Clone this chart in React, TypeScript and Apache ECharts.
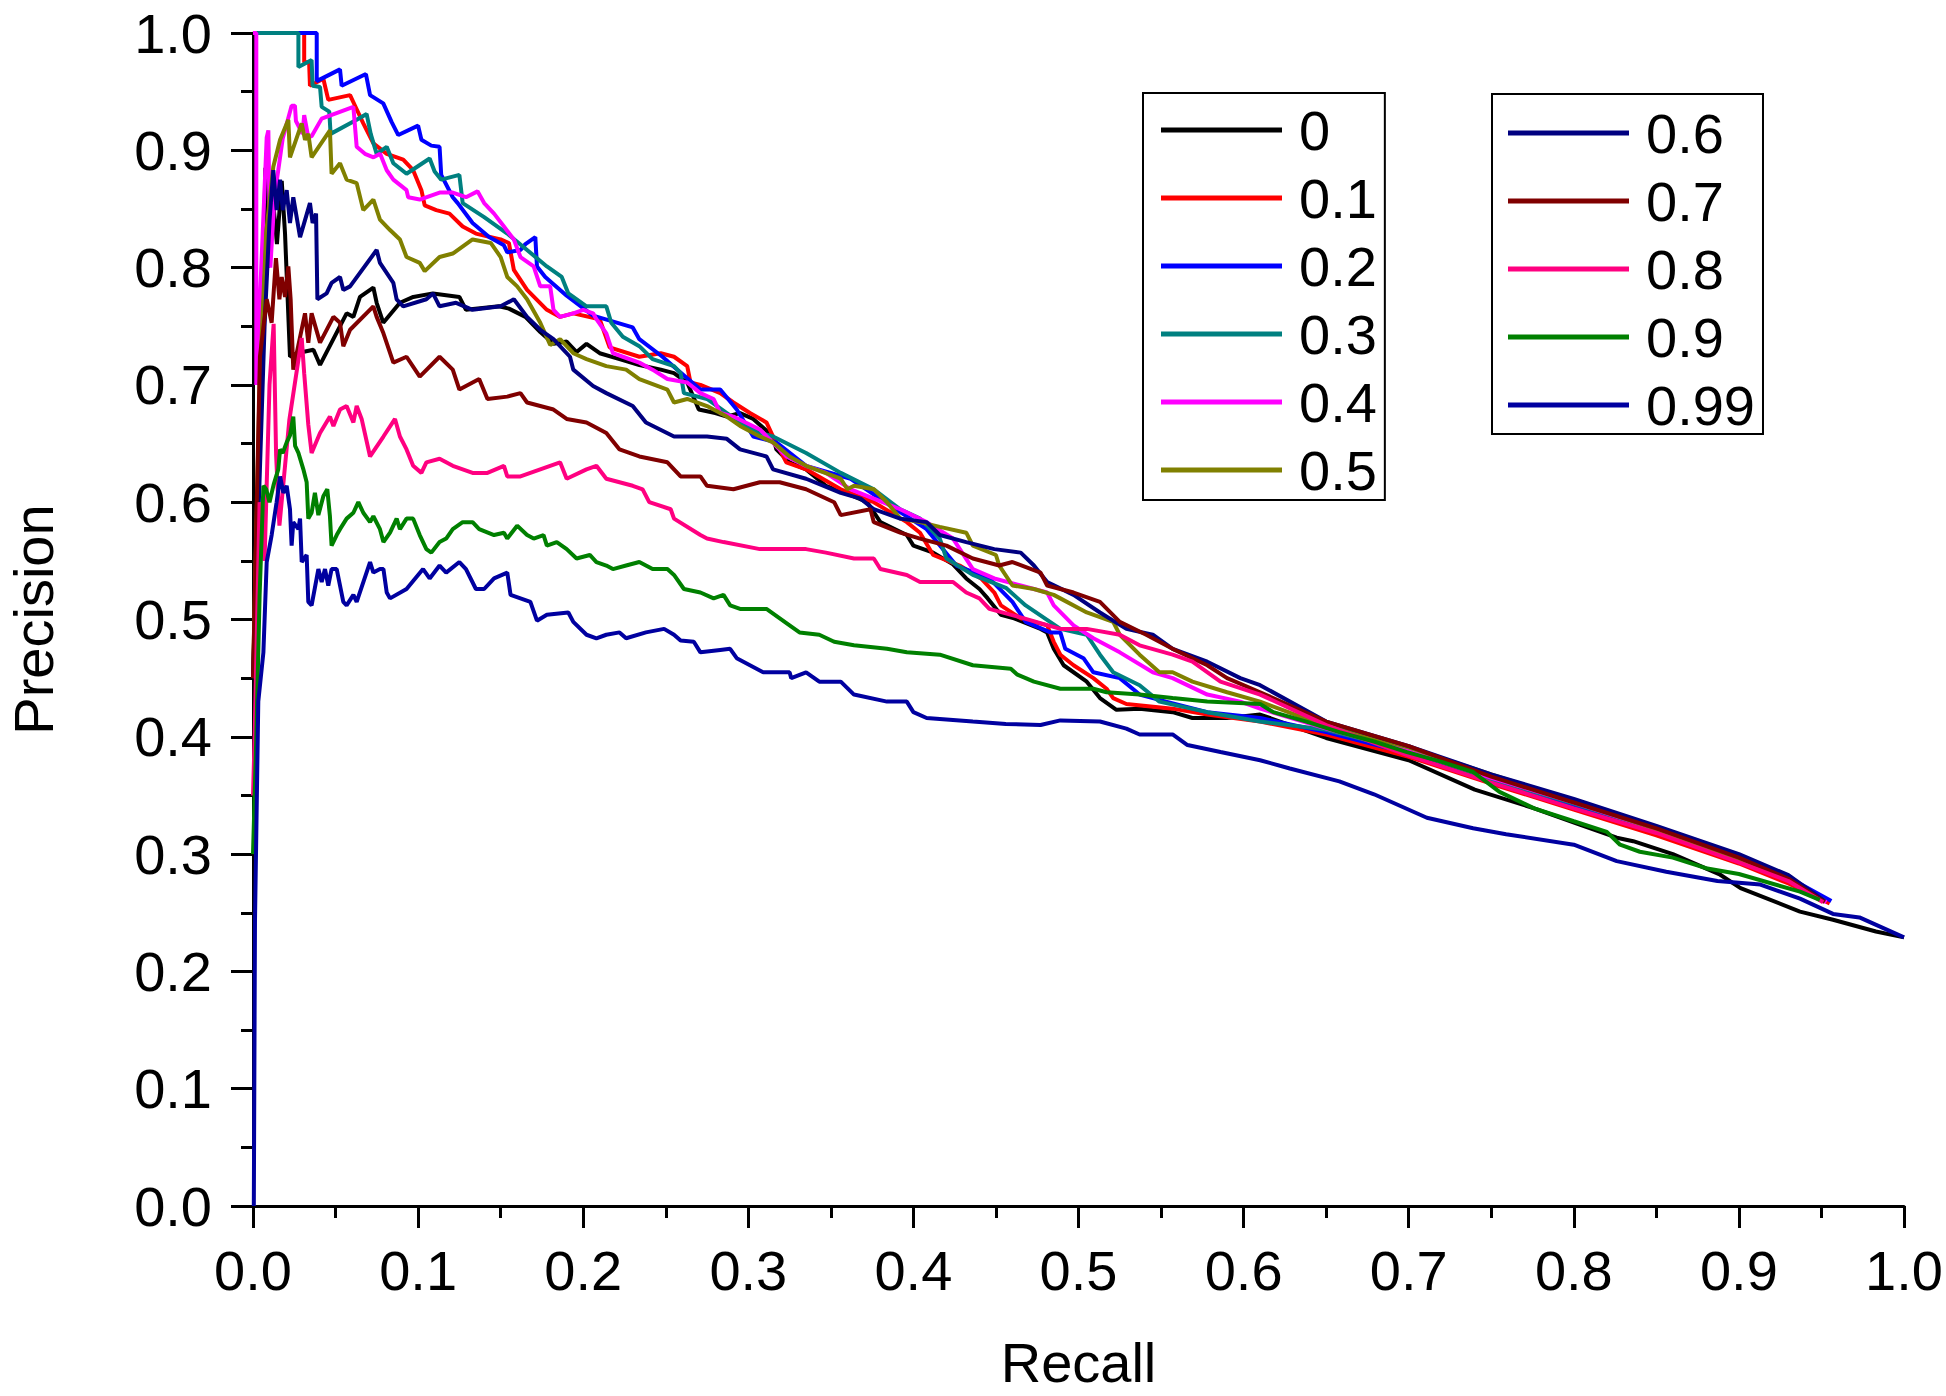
import React, { useEffect, useRef } from 'react';
import * as echarts from 'echarts';

const FONT = '"Liberation Sans", Arial, Helvetica, sans-serif';

const seriesNames = ['0', '0.1', '0.2', '0.3', '0.4', '0.5', '0.6', '0.7', '0.8', '0.9', '0.99'];
const seriesColors = ['#000000', '#FF0000', '#0000FF', '#008080', '#FF00FF', '#808000', '#000080', '#800000', '#FF0080', '#008000', '#0000A0'];
const axisTicks = [0, 0.1, 0.2, 0.3, 0.4, 0.5, 0.6, 0.7, 0.8, 0.9, 1.0];

// [recall, precision]
const pr0 = [[0,0.45],[0.005,0.7],[0.0075,0.885],[0.009,0.8],[0.0123,0.855],[0.0145,0.82],[0.0174,0.874],[0.0194,0.829],[0.0224,0.724],[0.0265,0.727],[0.0366,0.73],[0.0406,0.717],[0.0567,0.761],[0.0608,0.758],[0.0648,0.775],[0.0729,0.783],[0.0749,0.77],[0.0789,0.753],[0.089,0.77],[0.0971,0.775],[0.109,0.778],[0.125,0.775],[0.129,0.764],[0.149,0.767],[0.155,0.765],[0.165,0.758],[0.174,0.745],[0.182,0.735],[0.19,0.737],[0.196,0.728],[0.202,0.735],[0.21,0.727],[0.222,0.722],[0.234,0.717],[0.247,0.713],[0.255,0.71],[0.263,0.702],[0.27,0.679],[0.28,0.676],[0.287,0.673],[0.295,0.676],[0.303,0.671],[0.315,0.656],[0.317,0.645],[0.325,0.634],[0.335,0.628],[0.347,0.614],[0.364,0.605],[0.372,0.6],[0.38,0.583],[0.396,0.572],[0.4,0.563],[0.412,0.557],[0.424,0.547],[0.432,0.535],[0.44,0.526],[0.445,0.518],[0.453,0.504],[0.461,0.501],[0.477,0.492],[0.481,0.489],[0.485,0.475],[0.491,0.461],[0.505,0.447],[0.513,0.433],[0.523,0.423],[0.537,0.424],[0.557,0.421],[0.569,0.416],[0.59,0.416],[0.61,0.419],[0.65,0.399],[0.7,0.38],[0.74,0.355],[0.776,0.339],[0.804,0.325],[0.826,0.314],[0.836,0.311],[0.86,0.3],[0.888,0.283],[0.901,0.271],[0.937,0.251],[0.957,0.244],[0.983,0.234],[1.0,0.229]];
const pr01 = [[0,1],[0.031,1],[0.031,0.975],[0.034,0.975],[0.0345,0.955],[0.0426,0.961],[0.0456,0.943],[0.0588,0.947],[0.0618,0.938],[0.0668,0.923],[0.0729,0.906],[0.081,0.897],[0.091,0.892],[0.097,0.883],[0.102,0.866],[0.104,0.853],[0.111,0.849],[0.119,0.846],[0.127,0.835],[0.135,0.829],[0.15,0.824],[0.155,0.821],[0.158,0.798],[0.166,0.781],[0.178,0.764],[0.186,0.758],[0.194,0.761],[0.21,0.756],[0.216,0.732],[0.234,0.724],[0.247,0.727],[0.255,0.724],[0.263,0.716],[0.265,0.702],[0.271,0.7],[0.283,0.693],[0.291,0.685],[0.301,0.676],[0.311,0.668],[0.315,0.656],[0.323,0.634],[0.335,0.628],[0.356,0.611],[0.376,0.6],[0.396,0.583],[0.404,0.574],[0.412,0.555],[0.428,0.546],[0.441,0.535],[0.449,0.523],[0.453,0.512],[0.465,0.501],[0.481,0.495],[0.485,0.481],[0.489,0.47],[0.497,0.461],[0.509,0.45],[0.517,0.441],[0.521,0.433],[0.529,0.428],[0.557,0.424],[0.578,0.419],[0.61,0.413],[0.65,0.402],[0.7,0.383],[0.75,0.36],[0.8,0.338],[0.85,0.316],[0.9,0.292],[0.93,0.275],[0.955,0.258]];
const pr02 = [[0,1],[0.0386,1],[0.0386,0.959],[0.0527,0.969],[0.0537,0.955],[0.0684,0.965],[0.0709,0.947],[0.0789,0.94],[0.084,0.924],[0.088,0.913],[0.1,0.921],[0.102,0.909],[0.108,0.904],[0.113,0.903],[0.114,0.879],[0.121,0.86],[0.124,0.855],[0.133,0.838],[0.143,0.826],[0.152,0.819],[0.154,0.813],[0.162,0.815],[0.165,0.82],[0.171,0.826],[0.172,0.801],[0.177,0.792],[0.19,0.776],[0.206,0.759],[0.23,0.749],[0.234,0.739],[0.248,0.724],[0.257,0.713],[0.271,0.696],[0.283,0.696],[0.293,0.679],[0.303,0.656],[0.317,0.651],[0.335,0.631],[0.362,0.62],[0.386,0.597],[0.408,0.577],[0.426,0.546],[0.446,0.535],[0.46,0.515],[0.468,0.498],[0.483,0.489],[0.489,0.489],[0.492,0.475],[0.503,0.467],[0.509,0.455],[0.525,0.45],[0.537,0.436],[0.553,0.43],[0.578,0.421],[0.61,0.416],[0.65,0.404],[0.7,0.386],[0.75,0.362],[0.8,0.341],[0.85,0.32],[0.9,0.298],[0.93,0.28],[0.956,0.26]];
const pr03 = [[0,1],[0.0275,1],[0.0275,0.971],[0.0355,0.977],[0.0361,0.955],[0.0406,0.954],[0.0416,0.937],[0.0462,0.933],[0.047,0.914],[0.0628,0.926],[0.0688,0.931],[0.0713,0.914],[0.0749,0.897],[0.081,0.903],[0.085,0.889],[0.093,0.88],[0.107,0.893],[0.11,0.882],[0.114,0.875],[0.125,0.879],[0.127,0.855],[0.14,0.843],[0.154,0.829],[0.166,0.815],[0.178,0.801],[0.187,0.792],[0.191,0.778],[0.202,0.767],[0.214,0.767],[0.217,0.753],[0.224,0.741],[0.234,0.733],[0.242,0.722],[0.255,0.716],[0.259,0.71],[0.261,0.693],[0.275,0.688],[0.287,0.676],[0.295,0.668],[0.307,0.659],[0.315,0.656],[0.335,0.642],[0.356,0.625],[0.376,0.611],[0.392,0.594],[0.404,0.586],[0.416,0.569],[0.42,0.552],[0.436,0.538],[0.456,0.527],[0.468,0.512],[0.489,0.492],[0.505,0.487],[0.513,0.47],[0.521,0.455],[0.537,0.444],[0.549,0.43],[0.578,0.421],[0.61,0.413],[0.65,0.406],[0.7,0.388],[0.75,0.364],[0.8,0.343],[0.85,0.321],[0.9,0.298],[0.93,0.281],[0.951,0.26]];
const pr04 = [[0,1],[0.002,1],[0.002,0.7],[0.005,0.8],[0.0083,0.911],[0.0093,0.917],[0.0105,0.8],[0.013,0.86],[0.018,0.91],[0.0234,0.938],[0.0254,0.938],[0.026,0.925],[0.03,0.914],[0.031,0.93],[0.0335,0.911],[0.0355,0.912],[0.0416,0.927],[0.0608,0.937],[0.0628,0.903],[0.0678,0.897],[0.073,0.894],[0.077,0.897],[0.081,0.883],[0.085,0.875],[0.093,0.866],[0.094,0.86],[0.101,0.858],[0.113,0.864],[0.121,0.864],[0.129,0.86],[0.136,0.865],[0.14,0.855],[0.146,0.846],[0.152,0.835],[0.158,0.824],[0.162,0.809],[0.17,0.801],[0.174,0.784],[0.18,0.784],[0.182,0.764],[0.186,0.758],[0.194,0.761],[0.2,0.764],[0.206,0.761],[0.208,0.756],[0.214,0.744],[0.218,0.727],[0.224,0.724],[0.234,0.719],[0.242,0.713],[0.251,0.705],[0.263,0.702],[0.271,0.693],[0.279,0.688],[0.283,0.676],[0.291,0.673],[0.307,0.662],[0.323,0.639],[0.335,0.631],[0.347,0.625],[0.362,0.611],[0.376,0.603],[0.392,0.594],[0.408,0.583],[0.424,0.569],[0.436,0.543],[0.449,0.535],[0.465,0.529],[0.481,0.523],[0.485,0.512],[0.497,0.495],[0.509,0.484],[0.525,0.472],[0.545,0.455],[0.557,0.45],[0.578,0.436],[0.598,0.43],[0.61,0.424],[0.65,0.407],[0.7,0.388],[0.75,0.365],[0.8,0.344],[0.85,0.321],[0.9,0.297],[0.93,0.279],[0.953,0.259]];
const pr05 = [[0,0.45],[0.004,0.7],[0.008,0.83],[0.0123,0.886],[0.0164,0.909],[0.0214,0.926],[0.0224,0.894],[0.0295,0.923],[0.0315,0.909],[0.0335,0.914],[0.0355,0.894],[0.0466,0.917],[0.0476,0.88],[0.0527,0.889],[0.0567,0.875],[0.0628,0.872],[0.0668,0.849],[0.0729,0.858],[0.0769,0.841],[0.083,0.832],[0.089,0.824],[0.093,0.809],[0.101,0.804],[0.104,0.797],[0.113,0.809],[0.121,0.812],[0.133,0.824],[0.144,0.821],[0.15,0.809],[0.154,0.792],[0.16,0.784],[0.166,0.773],[0.174,0.753],[0.18,0.734],[0.186,0.739],[0.194,0.727],[0.202,0.722],[0.214,0.716],[0.226,0.713],[0.234,0.705],[0.251,0.696],[0.255,0.685],[0.263,0.688],[0.275,0.682],[0.287,0.673],[0.295,0.665],[0.307,0.656],[0.315,0.651],[0.325,0.639],[0.335,0.631],[0.356,0.62],[0.36,0.611],[0.364,0.614],[0.376,0.611],[0.384,0.6],[0.392,0.586],[0.404,0.583],[0.416,0.579],[0.432,0.574],[0.436,0.563],[0.45,0.555],[0.452,0.546],[0.46,0.529],[0.473,0.526],[0.485,0.521],[0.489,0.518],[0.505,0.506],[0.521,0.498],[0.525,0.487],[0.537,0.47],[0.549,0.455],[0.557,0.455],[0.569,0.447],[0.59,0.438],[0.61,0.43],[0.65,0.409],[0.7,0.391],[0.75,0.368],[0.8,0.345],[0.85,0.321],[0.9,0.296],[0.93,0.279],[0.952,0.26]];
const pr06 = [[0,0.45],[0.004,0.62],[0.007,0.75],[0.01,0.84],[0.0123,0.883],[0.0143,0.849],[0.0164,0.875],[0.018,0.849],[0.0204,0.866],[0.0224,0.838],[0.0244,0.86],[0.0285,0.826],[0.0345,0.855],[0.0361,0.838],[0.0382,0.846],[0.039,0.773],[0.0446,0.778],[0.0476,0.787],[0.0527,0.792],[0.0547,0.781],[0.0588,0.784],[0.0749,0.815],[0.0769,0.804],[0.085,0.787],[0.087,0.773],[0.091,0.767],[0.105,0.773],[0.109,0.778],[0.113,0.767],[0.123,0.77],[0.133,0.764],[0.15,0.767],[0.158,0.773],[0.166,0.758],[0.174,0.747],[0.182,0.739],[0.192,0.724],[0.194,0.713],[0.206,0.699],[0.214,0.693],[0.23,0.682],[0.238,0.668],[0.255,0.656],[0.275,0.656],[0.287,0.654],[0.295,0.645],[0.311,0.639],[0.315,0.628],[0.335,0.62],[0.356,0.608],[0.368,0.603],[0.376,0.594],[0.392,0.586],[0.408,0.583],[0.416,0.572],[0.432,0.566],[0.449,0.56],[0.465,0.557],[0.473,0.546],[0.481,0.532],[0.497,0.521],[0.513,0.506],[0.529,0.492],[0.545,0.487],[0.557,0.475],[0.578,0.464],[0.598,0.45],[0.61,0.444],[0.65,0.413],[0.7,0.392],[0.75,0.368],[0.8,0.347],[0.85,0.324],[0.9,0.3],[0.93,0.282],[0.952,0.26]];
const pr07 = [[0,0.45],[0.0042,0.724],[0.0083,0.773],[0.0113,0.753],[0.0139,0.808],[0.016,0.773],[0.0174,0.792],[0.0194,0.775],[0.0214,0.801],[0.0228,0.773],[0.0244,0.713],[0.0315,0.761],[0.0335,0.736],[0.0355,0.761],[0.0406,0.736],[0.0487,0.758],[0.0527,0.753],[0.0547,0.733],[0.0588,0.747],[0.0729,0.767],[0.0749,0.758],[0.079,0.744],[0.085,0.719],[0.093,0.724],[0.101,0.707],[0.113,0.724],[0.121,0.713],[0.125,0.696],[0.137,0.705],[0.142,0.688],[0.154,0.69],[0.162,0.693],[0.166,0.685],[0.182,0.679],[0.19,0.671],[0.202,0.668],[0.214,0.659],[0.222,0.645],[0.234,0.639],[0.251,0.634],[0.259,0.622],[0.271,0.622],[0.275,0.614],[0.291,0.611],[0.307,0.617],[0.319,0.617],[0.335,0.611],[0.352,0.6],[0.356,0.589],[0.374,0.594],[0.376,0.583],[0.392,0.574],[0.404,0.569],[0.42,0.563],[0.436,0.552],[0.452,0.546],[0.46,0.549],[0.477,0.54],[0.481,0.529],[0.497,0.523],[0.513,0.515],[0.525,0.498],[0.541,0.487],[0.557,0.475],[0.578,0.461],[0.59,0.45],[0.61,0.438],[0.65,0.413],[0.7,0.392],[0.75,0.366],[0.8,0.344],[0.85,0.322],[0.9,0.297],[0.93,0.279],[0.952,0.259]];
const pr08 = [[0,0.35],[0.001,0.4],[0.004,0.6],[0.007,0.55],[0.01,0.7],[0.0125,0.752],[0.014,0.64],[0.016,0.58],[0.022,0.67],[0.0295,0.74],[0.031,0.71],[0.0335,0.666],[0.0355,0.642],[0.0406,0.659],[0.0466,0.673],[0.0487,0.665],[0.0527,0.679],[0.0567,0.682],[0.0608,0.668],[0.0628,0.682],[0.0658,0.671],[0.0709,0.639],[0.079,0.656],[0.086,0.671],[0.089,0.656],[0.093,0.645],[0.097,0.631],[0.102,0.625],[0.105,0.634],[0.113,0.637],[0.121,0.631],[0.133,0.625],[0.142,0.625],[0.152,0.631],[0.154,0.622],[0.162,0.622],[0.174,0.628],[0.186,0.634],[0.19,0.62],[0.202,0.628],[0.208,0.631],[0.214,0.62],[0.23,0.614],[0.236,0.611],[0.24,0.6],[0.253,0.594],[0.255,0.586],[0.271,0.572],[0.275,0.569],[0.285,0.566],[0.307,0.56],[0.319,0.56],[0.335,0.56],[0.347,0.557],[0.364,0.552],[0.376,0.552],[0.38,0.543],[0.396,0.538],[0.404,0.532],[0.424,0.532],[0.432,0.523],[0.44,0.518],[0.446,0.509],[0.467,0.501],[0.489,0.492],[0.505,0.492],[0.525,0.487],[0.537,0.478],[0.557,0.47],[0.569,0.464],[0.586,0.447],[0.61,0.436],[0.65,0.41],[0.7,0.384],[0.75,0.361],[0.8,0.339],[0.85,0.318],[0.9,0.293],[0.93,0.277],[0.951,0.259]];
const pr09 = [[0,0.3],[0.002,0.4],[0.004,0.52],[0.0063,0.614],[0.008,0.611],[0.01,0.6],[0.0125,0.615],[0.0153,0.628],[0.0164,0.645],[0.018,0.642],[0.0204,0.651],[0.0224,0.657],[0.0244,0.673],[0.0255,0.648],[0.0275,0.642],[0.0305,0.628],[0.0325,0.617],[0.0335,0.586],[0.0355,0.591],[0.0375,0.608],[0.0396,0.589],[0.0426,0.605],[0.045,0.611],[0.0466,0.588],[0.0476,0.563],[0.0507,0.572],[0.0527,0.577],[0.0567,0.586],[0.0608,0.591],[0.0638,0.6],[0.0668,0.591],[0.0709,0.583],[0.0729,0.588],[0.0769,0.577],[0.079,0.566],[0.083,0.574],[0.087,0.586],[0.089,0.577],[0.093,0.586],[0.097,0.586],[0.101,0.572],[0.105,0.56],[0.108,0.557],[0.113,0.566],[0.117,0.569],[0.121,0.577],[0.127,0.583],[0.133,0.583],[0.137,0.577],[0.146,0.572],[0.152,0.574],[0.154,0.569],[0.16,0.58],[0.166,0.572],[0.17,0.569],[0.176,0.572],[0.178,0.563],[0.184,0.566],[0.19,0.56],[0.196,0.552],[0.204,0.555],[0.208,0.549],[0.214,0.546],[0.218,0.543],[0.226,0.546],[0.234,0.549],[0.242,0.543],[0.251,0.543],[0.255,0.538],[0.261,0.526],[0.271,0.523],[0.279,0.518],[0.285,0.521],[0.289,0.512],[0.295,0.509],[0.311,0.509],[0.325,0.495],[0.331,0.489],[0.343,0.487],[0.352,0.481],[0.364,0.478],[0.384,0.475],[0.396,0.472],[0.416,0.47],[0.436,0.461],[0.459,0.458],[0.463,0.453],[0.473,0.447],[0.489,0.441],[0.509,0.441],[0.517,0.438],[0.537,0.436],[0.557,0.433],[0.578,0.43],[0.61,0.428],[0.618,0.421],[0.638,0.413],[0.658,0.404],[0.679,0.396],[0.699,0.387],[0.719,0.379],[0.739,0.37],[0.755,0.353],[0.776,0.339],[0.8,0.328],[0.82,0.319],[0.828,0.308],[0.84,0.302],[0.86,0.297],[0.88,0.288],[0.9,0.283],[0.937,0.268],[0.949,0.261]];
const pr099 = [[0.0005,0],[0.0012,0.243],[0.0032,0.43],[0.0063,0.472],[0.0083,0.549],[0.0113,0.572],[0.0143,0.6],[0.0164,0.622],[0.0184,0.608],[0.0204,0.614],[0.0224,0.594],[0.0234,0.563],[0.0244,0.583],[0.0275,0.577],[0.0285,0.586],[0.0295,0.549],[0.0325,0.555],[0.0335,0.515],[0.0355,0.512],[0.0396,0.543],[0.0416,0.532],[0.0436,0.543],[0.0456,0.529],[0.0476,0.543],[0.0507,0.543],[0.0547,0.515],[0.0567,0.512],[0.0608,0.521],[0.0628,0.515],[0.0709,0.549],[0.0729,0.54],[0.0769,0.543],[0.079,0.543],[0.081,0.523],[0.083,0.518],[0.093,0.526],[0.103,0.543],[0.107,0.535],[0.113,0.546],[0.117,0.54],[0.125,0.549],[0.129,0.543],[0.135,0.526],[0.14,0.526],[0.146,0.535],[0.154,0.54],[0.156,0.521],[0.168,0.515],[0.172,0.499],[0.178,0.504],[0.191,0.506],[0.194,0.498],[0.202,0.487],[0.208,0.484],[0.214,0.487],[0.222,0.489],[0.226,0.484],[0.238,0.489],[0.249,0.492],[0.255,0.487],[0.259,0.482],[0.267,0.481],[0.271,0.472],[0.283,0.474],[0.289,0.475],[0.293,0.467],[0.309,0.455],[0.325,0.455],[0.326,0.45],[0.335,0.455],[0.343,0.447],[0.356,0.447],[0.364,0.436],[0.384,0.43],[0.396,0.43],[0.4,0.421],[0.408,0.416],[0.436,0.413],[0.456,0.411],[0.477,0.41],[0.489,0.414],[0.513,0.413],[0.529,0.407],[0.537,0.402],[0.557,0.402],[0.566,0.393],[0.586,0.387],[0.61,0.38],[0.628,0.373],[0.658,0.362],[0.679,0.351],[0.711,0.331],[0.739,0.322],[0.759,0.317],[0.8,0.308],[0.826,0.294],[0.856,0.285],[0.887,0.277],[0.913,0.274],[0.937,0.262],[0.957,0.249],[0.973,0.246],[1.0,0.229]];

const seriesData = [pr0, pr01, pr02, pr03, pr04, pr05, pr06, pr07, pr08, pr09, pr099];

function makeLegend(names: string[], left: number, top: number, padding: number[]) {
  return {
    data: names,
    orient: 'vertical',
    left,
    top,
    padding,
    itemGap: 12,
    itemWidth: 121,
    itemHeight: 5,
    icon: 'rect',
    selectedMode: false,
    borderColor: '#000',
    borderWidth: 2,
    backgroundColor: '#fff',
    formatter: (n: string) => `{t|${n}}`,
    textStyle: {
      fontSize: 56,
      lineHeight: 56,
      color: '#000',
      fontFamily: FONT,
      rich: { t: { fontSize: 56, lineHeight: 56, color: '#000', fontFamily: FONT, padding: [0, 0, 0, 12] } },
    },
  };
}

function axisCommon() {
  return {
    type: 'value',
    min: axisTicks[0],
    max: axisTicks[axisTicks.length - 1],
    interval: 0.1,
    axisLine: { show: true, onZero: false, lineStyle: { color: '#000', width: 3 } },
    axisTick: { show: true, inside: false, length: 22, lineStyle: { color: '#000', width: 3 } },
    minorTick: { show: true, splitNumber: 2, length: 12, lineStyle: { color: '#000', width: 3 } },
    splitLine: { show: false },
    minorSplitLine: { show: false },
    nameTextStyle: { fontSize: 56, lineHeight: 56, color: '#000', fontFamily: FONT },
  };
}

export default function App() {
  const ref = useRef<HTMLDivElement>(null);
  useEffect(() => {
    document.body.style.margin = '0';
    const chart = echarts.init(ref.current!, null, { renderer: 'svg' });
    const option = {
      animation: false,
      backgroundColor: '#fff',
      grid: { left: 253, right: 42, top: 33, bottom: 190, containLabel: false, outerBoundsMode: 'none' },
      legend: [
        makeLegend(seriesNames.slice(0, 6), 1143, 93, [9, 8, 2, 18]),
        makeLegend(seriesNames.slice(6), 1492, 94, [11, 8, 1, 16]),
      ],
      xAxis: {
        ...axisCommon(),
        name: 'Recall',
        nameLocation: 'middle',
        nameGap: 128,
        axisLabel: { fontSize: 56, color: '#000', fontFamily: FONT, margin: 36, formatter: (v: number) => v.toFixed(1) },
      },
      yAxis: {
        ...axisCommon(),
        name: 'Precision',
        nameLocation: 'middle',
        nameRotate: 90,
        nameGap: 192,
        axisLabel: { fontSize: 56, lineHeight: 44, color: '#000', fontFamily: FONT, margin: 41, formatter: (v: number) => v.toFixed(1) },
      },
      series: seriesNames.map((name, i) => ({
        name,
        type: 'line',
        data: seriesData[i],
        showSymbol: false,
        symbol: 'none',
        color: seriesColors[i],
        lineStyle: { color: seriesColors[i], width: 4 },
        itemStyle: { color: seriesColors[i] },
        z: 2 + i,
      })),
    };
    chart.setOption(option as any);
    return () => chart.dispose();
  }, []);
  return <div ref={ref} style={{ width: 1946, height: 1396, background: '#fff' }} />;
}
